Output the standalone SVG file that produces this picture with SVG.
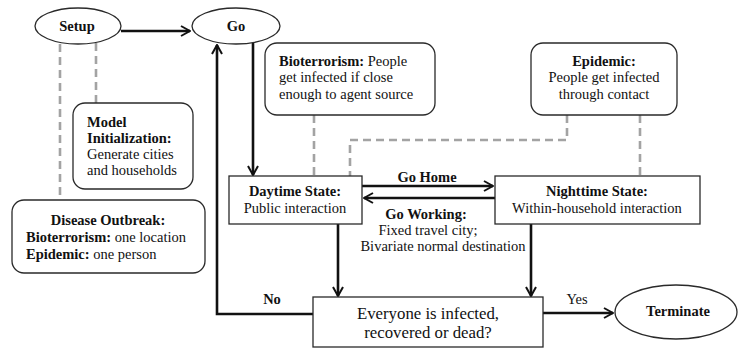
<svg xmlns="http://www.w3.org/2000/svg" width="738" height="350" viewBox="0 0 738 350">
<style>
text{font-family:"Liberation Serif","Times New Roman",serif;font-size:14.5px;fill:#111}
.b{font-weight:bold}
.m{text-anchor:middle}
.big{font-size:16.8px}
.shape{fill:#fff;stroke:#2a2a2a;stroke-width:1.3}
.conn{fill:none;stroke:#111;stroke-width:2.6}
.dash{fill:none;stroke:#a3a3a3;stroke-width:2.6;stroke-dasharray:8 5}
</style>
<defs>
<marker id="arr" viewBox="0 0 12 12" refX="11" refY="6" markerWidth="12" markerHeight="12" markerUnits="userSpaceOnUse" orient="auto">
<path d="M2,1 L11,6 L2,11" fill="none" stroke="#111" stroke-width="2"/>
</marker>
</defs>
<g id="connectors">
<path class="dash" d="M60,44 V200"/>
<path class="dash" d="M96,43 V103"/>
<path class="dash" d="M314,115 V176"/>
<path class="dash" d="M567,115 V140 H350 V176"/>
<path class="dash" d="M640,115 V176"/>
<path class="conn" d="M121,31 H190" marker-end="url(#arr)"/>
<path class="conn" d="M253,43 V175" marker-end="url(#arr)"/>
<path class="conn" d="M313,314 H217 V45" marker-end="url(#arr)"/>
<path class="conn" d="M362,186 H493" marker-end="url(#arr)"/>
<path class="conn" d="M495,198 H364" marker-end="url(#arr)"/>
<path class="conn" d="M338,224 V296" marker-end="url(#arr)"/>
<path class="conn" d="M531,224 V296" marker-end="url(#arr)"/>
<path class="conn" d="M543,313 H613" marker-end="url(#arr)"/>
<text class="b m" x="427" y="182">Go Home</text>
<text class="b m" x="426" y="219">Go Working:</text>
<text class="m" x="428" y="235">Fixed travel city;</text>
<text class="m" x="443" y="251">Bivariate normal destination</text>
<text class="b m" x="272" y="304">No</text>
<text class="m" x="577" y="304">Yes</text>
</g>
<g id="setup">
<ellipse class="shape" cx="78" cy="26" rx="43" ry="18"/>
<text class="b m" x="77" y="31">Setup</text>
</g>
<g id="go">
<ellipse class="shape" cx="236" cy="26" rx="44" ry="18"/>
<text class="b m" x="236" y="31">Go</text>
</g>
<g id="model-init">
<rect class="shape" x="73" y="103" width="120" height="86" rx="12"/>
<text class="b" x="87" y="127">Model</text>
<text class="b" x="87" y="143">Initialization:</text>
<text x="87" y="159">Generate cities</text>
<text x="87" y="175">and households</text>
</g>
<g id="disease-outbreak">
<rect class="shape" x="12" y="200" width="193" height="73" rx="12"/>
<text class="b m" x="108" y="225">Disease Outbreak:</text>
<text x="26" y="242"><tspan class="b">Bioterrorism:</tspan> one location</text>
<text x="26" y="259"><tspan class="b">Epidemic:</tspan> one person</text>
</g>
<g id="bioterrorism">
<rect class="shape" x="265" y="43" width="170" height="72" rx="12"/>
<text x="279" y="66"><tspan class="b">Bioterrorism:</tspan> People</text>
<text x="279" y="82">get infected if close</text>
<text x="279" y="99">enough to agent source</text>
</g>
<g id="epidemic">
<rect class="shape" x="531" y="43" width="146" height="72" rx="12"/>
<text class="b m" x="604" y="66">Epidemic:</text>
<text class="m" x="604" y="82">People get infected</text>
<text class="m" x="604" y="99">through contact</text>
</g>
<g id="daytime">
<rect class="shape" x="229" y="176" width="133" height="48"/>
<text class="b m" x="295" y="196">Daytime State:</text>
<text class="m" x="295" y="213">Public interaction</text>
</g>
<g id="nighttime">
<rect class="shape" x="495" y="176" width="205" height="48"/>
<text class="b m" x="597" y="196">Nighttime State:</text>
<text class="m" x="597" y="213">Within-household interaction</text>
</g>
<g id="decision">
<rect class="shape" x="313" y="297" width="230" height="50"/>
<text class="m big" x="428" y="319">Everyone is infected,</text>
<text class="m big" x="428" y="338">recovered or dead?</text>
</g>
<g id="terminate">
<ellipse class="shape" cx="676" cy="312" rx="61" ry="27"/>
<text class="b m" x="678" y="316">Terminate</text>
</g>
</svg>
